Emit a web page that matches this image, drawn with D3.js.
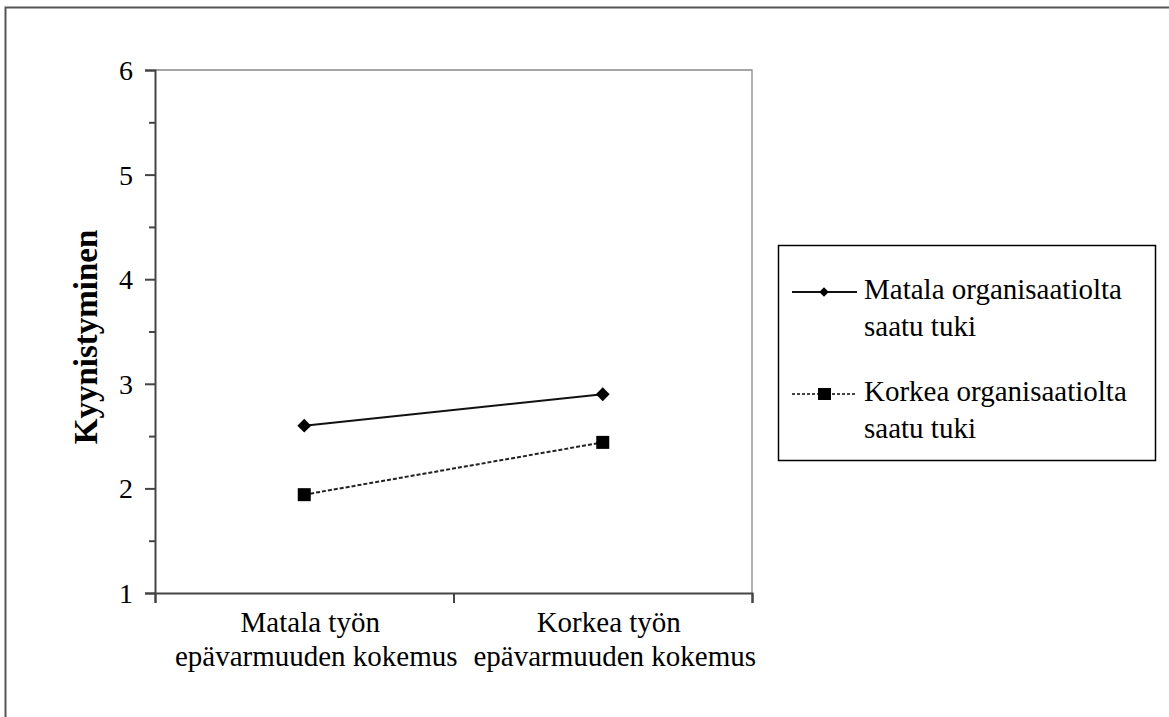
<!DOCTYPE html>
<html><head><meta charset="utf-8">
<script src="https://cdn.jsdelivr.net/npm/d3@7"></script>
<style>body{margin:0;background:#fff;} svg{display:block;font-family:"Liberation Serif","Times New Roman",serif;}</style>
</head><body>
<svg id="c" width="1169" height="717"></svg>
<script>
const categories = [["Matala työn","epävarmuuden kokemus"],["Korkea työn","epävarmuuden kokemus"]];
const seriesNames = [["Matala organisaatiolta","saatu tuki"],["Korkea organisaatiolta","saatu tuki"]];
const matalaTuki = [2.6, 2.9];
const korkeaTuki = [1.94, 2.44];
const yTicks = [1,2,3,4,5,6];
const yMinor = [1.5,2.5,3.5,4.5,5.5];
const yLabel = "Kyynistyminen";

const svg = d3.select("#c");
const L=155, R=752, T=70, B=593;
// outer frame (only top/left visible)
svg.append("path").attr("d","M5.5,717 V7.5 H1169").attr("fill","none").attr("stroke","#555").attr("stroke-width",2);

const x = d3.scaleBand().domain([0,1]).range([L,R]).padding(0);
const y = d3.scaleLinear().domain([1,6]).range([B,T]);

// plot frame top/right
svg.append("path").attr("d",`M${L},${T}H${R}V${B}`).attr("fill","none").attr("stroke","#888").attr("stroke-width",1.3);

// y axis
svg.append("g").attr("transform",`translate(${L},0)`)
  .call(d3.axisLeft(y).tickValues(yTicks).tickSize(10).tickPadding(12).tickFormat(d3.format("d")));
svg.append("g").attr("transform",`translate(${L},0)`)
  .call(d3.axisLeft(y).tickValues(yMinor).tickSize(6).tickFormat(""))
  .call(g=>g.select(".domain").remove());
// x axis
svg.append("g").attr("transform",`translate(0,${B})`)
  .call(d3.axisBottom(d3.scaleLinear().domain([0,2]).range([L,R])).tickValues([0,1,2]).tickSize(10).tickFormat(""));
svg.selectAll(".domain").attr("stroke","#444").attr("stroke-width",2);
svg.selectAll(".tick line").attr("stroke","#444").attr("stroke-width",2);
svg.selectAll(".tick text").attr("font-size",28).attr("fill","#000").attr("font-family","Liberation Serif").attr("dy","0.34em");

// category labels
const lineOffsets = [6, 12];
categories.forEach((c,i)=>{
  const cx = x(i)+x.bandwidth()/2;
  c.forEach((t,j)=>svg.append("text").attr("x",cx+lineOffsets[j]).attr("y",632+j*34).attr("text-anchor","middle")
    .attr("font-size",29).text(t));
});

// y label
svg.append("text").attr("transform",`translate(97,337) rotate(-90)`).attr("text-anchor","middle")
  .attr("font-size",33).attr("font-weight","bold").text(yLabel);

const cxs = i => x(i)+x.bandwidth()/2;
const line = d3.line().x((d,i)=>cxs(i)).y(d=>y(d));
svg.append("path").attr("d",line(matalaTuki)).attr("fill","none").attr("stroke","#111").attr("stroke-width",2);
svg.append("path").attr("d",line(korkeaTuki)).attr("fill","none").attr("stroke","#222").attr("stroke-width",2).attr("stroke-dasharray","4,2");
const diamond = d3.symbol().type(d3.symbolSquare).size(95);
matalaTuki.forEach((v,i)=>svg.append("path").attr("d",diamond()).attr("transform",`translate(${cxs(i)},${y(v)}) rotate(45)`).attr("fill","#000"));
korkeaTuki.forEach((v,i)=>svg.append("rect").attr("x",cxs(i)-6.5).attr("y",y(v)-6.5).attr("width",13).attr("height",13).attr("fill","#000"));

// legend
svg.append("rect").attr("x",778.5).attr("y",245.5).attr("width",377).attr("height",215).attr("fill","none").attr("stroke","#000").attr("stroke-width",1.5);
const legY=[292,394];
svg.append("line").attr("x1",792).attr("x2",857).attr("y1",legY[0]).attr("y2",legY[0]).attr("stroke","#111").attr("stroke-width",2);
svg.append("path").attr("d",d3.symbol().type(d3.symbolSquare).size(45)()).attr("transform",`translate(824,${legY[0]}) rotate(45)`).attr("fill","#000");
svg.append("line").attr("x1",792).attr("x2",857).attr("y1",legY[1]).attr("y2",legY[1]).attr("stroke","#444").attr("stroke-width",2).attr("stroke-dasharray","3,2");
svg.append("rect").attr("x",818).attr("y",legY[1]-6).attr("width",13).attr("height",12).attr("fill","#000");
seriesNames.forEach((s,i)=>s.forEach((t,j)=>svg.append("text").attr("x",864).attr("y",legY[i]+7+j*37)
  .attr("font-size",29).text(t)));
</script>
</body></html>
